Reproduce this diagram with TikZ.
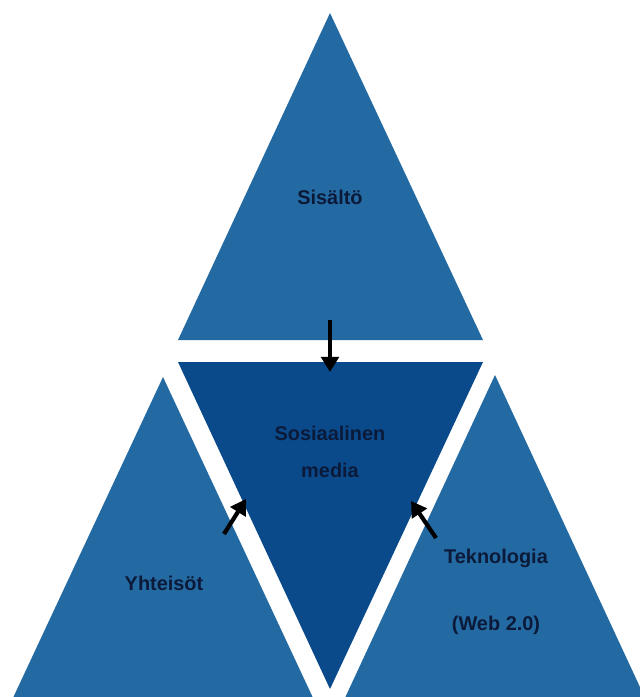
\documentclass[tikz,border=0pt]{standalone}
\usepackage{fontspec}
\setmainfont{Liberation Sans}
\usetikzlibrary{arrows.meta}
\definecolor{sideblue}{RGB}{36,106,162}
\definecolor{coreblue}{RGB}{10,74,138}
\definecolor{wordnavy}{RGB}{12,26,58}
\tikzset{side/.style={fill=sideblue},
	core/.style={fill=coreblue},
	word/.style={font=\fontsize{17}{32}\selectfont\bfseries,text=wordnavy,align=center},
	flow/.style={-{Triangle[width=15pt,length=13pt]},line width=3.6pt,black}}

\begin{document}
\begin{tikzpicture}[x=0.03cm,y=-0.03cm]
\useasboundingbox (0,0) rectangle (639,697);
\fill[side] (330,13) -- (178,340) -- (483,340) -- cycle;
\fill[core] (178,362) -- (483,362) -- (330,689) -- cycle;
\fill[side] (163,377) -- (12,700) -- (314,700) -- cycle;
\fill[side] (495,375) -- (344,700) -- (646,700) -- cycle;
\node[word] (sisalto) at (330,197) {Sisältö};
\node[word] (some) at (330,452) {Sosiaalinen\\media};
\node[word] (yhteisot) at (164,583) {Yhteisöt};
\node[word] (tekno) at (496,592) {Teknologia\\[25pt](Web 2.0)};
\coordinate (s1) at (330,320); \coordinate (s2) at (330,372);
\coordinate (y1) at (224,534); \coordinate (y2) at (246,499);
\coordinate (t1) at (436,538); \coordinate (t2) at (411,501);
\draw[flow] (s1) -- (s2);
\draw[flow] (y1) -- (y2);
\draw[flow] (t1) -- (t2);
\end{tikzpicture}
\end{document}
